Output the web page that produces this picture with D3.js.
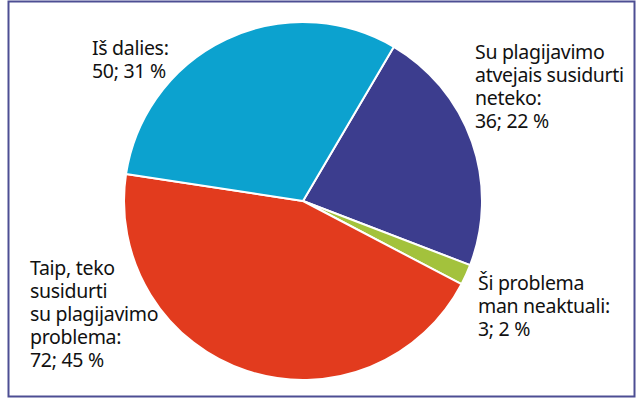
<!DOCTYPE html>
<html>
<head>
<meta charset="utf-8">
<script src="https://cdn.jsdelivr.net/npm/d3@7"></script>
<style>
  body { margin: 0; background: #fff; }
  svg text { font-family: "Noto Sans", "Open Sans", sans-serif; fill: #111; }
</style>
</head>
<body>
<svg id="chart" width="640" height="401"></svg>
<script>
// slices in clockwise order, starting at the top-right boundary
const categories = ["Su plagijavimo atvejais susidurti neteko", "Ši problema man neaktuali",
    "Taip, teko susidurti su plagijavimo problema", "Iš dalies"];
const values = [36, 3, 72, 50];
const percents = [22, 2, 45, 31];
const labelLines = [
    ["Su plagijavimo", "atvejais susidurti", "neteko:"],
    ["Ši problema", "man neaktuali:"],
    ["Taip, teko", "susidurti", "su plagijavimo", "problema:"],
    ["Iš dalies:"]
];
const colors = ["#3c3d8e", "#a3c23c", "#e23b1e", "#0ca2cf"];

const svg = d3.select("#chart");
const width = 640, height = 401;

// frame
svg.append("rect")
    .attr("x", 8.5).attr("y", 1.5)
    .attr("width", 626).attr("height", 395)
    .attr("fill", "none")
    .attr("stroke", "#4d4e93")
    .attr("stroke-width", 2);

const cx = 303, cy = 201, radius = 179;
const start = 30.5 * Math.PI / 180;

const pie = d3.pie().sort(null).value(d => d)
    .startAngle(start).endAngle(start + 2 * Math.PI);
const arc = d3.arc().innerRadius(0).outerRadius(radius);

const g = svg.append("g").attr("transform", `translate(${cx}, ${cy})`);
g.selectAll("path")
    .data(pie(values))
    .join("path")
    .attr("d", arc)
    .attr("fill", (d, i) => colors[i])
    .attr("stroke", "#fff")
    .attr("stroke-width", 2)
    .attr("stroke-linejoin", "round");

// label anchors (top-left baseline of first line)
const labelPos = [[475, 59], [478, 290], [30, 275], [92, 55]];
const lineH = 23;

categories.forEach((c, i) => {
    const lines = labelLines[i].concat([`${values[i]}; ${percents[i]} %`]);
    const t = svg.append("text")
        .attr("x", labelPos[i][0])
        .attr("y", labelPos[i][1])
        .style("font-size", "19.5px")
        .style("letter-spacing", "-0.3px");
    t.selectAll("tspan")
        .data(lines)
        .join("tspan")
        .attr("x", labelPos[i][0])
        .attr("dy", (d, j) => j === 0 ? 0 : lineH)
        .text(d => d);
});
</script>
</body>
</html>
